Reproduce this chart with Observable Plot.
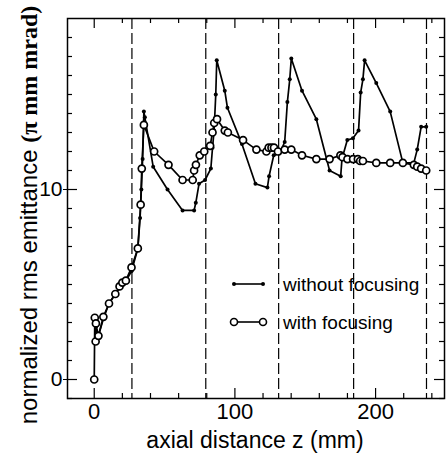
<!DOCTYPE html>
<html><head><meta charset="utf-8">
<script src="https://cdn.jsdelivr.net/npm/d3@7"></script>
<script src="https://cdn.jsdelivr.net/npm/@observablehq/plot@0.6"></script>
<style>body{margin:0;background:#fff} svg{display:block}</style>
</head><body><div id="chart"></div>
<script>
// Series: axial distance z (mm) and normalized rms emittance (pi mm mrad)
const zWith = [0,0.4,1.2,1.0,3.0,6.5,10.5,15,18,20,22.5,26.5,31,33,33.8,35.3,42.6,52.8,62.8,70,71,72.3,75,78.2,82.4,84.1,85.3,87.3,92.8,95,105.8,115.3,122.4,124,126,127.8,130.6,135.4,140.1,147.7,157.9,167.3,175,176.5,180,184,187.4,189,191,200.5,210.4,219.4,227.2,229.6,232.4,236];
const eWith = [0,3.25,2.95,2.0,2.3,3.3,4.0,4.5,4.9,5.1,5.2,5.9,6.9,9.2,11.1,13.4,12.0,11.3,10.5,10.5,11.0,11.3,11.8,12.0,12.3,13.0,13.5,13.7,13.1,13.0,12.6,12.1,12.0,12.2,12.2,12.2,12.0,12.1,12.1,11.8,11.6,11.6,11.8,11.7,11.6,11.6,11.6,11.5,11.5,11.4,11.4,11.4,11.3,11.2,11.1,11.0];
const zWithout = [0.8,1.5,3,6.5,10.5,15,18,20,22.5,26.5,31,32.6,33.5,34.4,35.3,36,41.9,52.1,62.8,71,72.2,74.5,78.8,82.9,84.1,85.2,86.4,87.1,92.8,94.7,105,114.6,123.1,124.3,127.6,131.8,135.4,137.3,139,140.1,147.7,157.9,167.3,175.2,176.1,179.9,183.9,187.9,189.4,191,192.2,200.5,210.4,219.4,227.2,229.6,232.4,236];
const eWithout = [2.0,2.8,2.3,3.2,4.0,4.5,4.8,5.0,5.2,5.7,6.9,8.5,10.0,11.6,14.1,13.8,11.2,10.0,8.9,8.9,9.3,10.3,10.5,11.1,12.2,13.1,15.0,16.8,15.2,14.3,12.4,10.3,10.1,10.7,11.8,11.9,12.5,14.6,15.8,16.9,15.2,13.7,11.0,10.7,11.6,12.6,12.7,13.1,15.1,15.8,16.8,15.6,14.1,11.4,11.4,12.1,13.3,13.3];
const dividers = [26.8, 79.3, 131.1, 184.4, 236.2];
const xMajor = [0, 100, 200];
const xMinor = [20, 40, 60, 80, 120, 140, 160, 180, 220, 240];
const yMajor = [0, 10];
const yMinor = [-1,1,2,3,4,5,6,7,8,9,11,12,13,14,15,16,17,18];
const seriesNames = ["without focusing", "with focusing"];
const xLabel = "axial distance z (mm)";
const yLabelSans = "normalized rms emittance ";
const yLabelSerif = "(\u03c0 mm mrad)";

const withData = zWith.map((z,i)=>({z, e: eWith[i]}));
const withoutData = zWithout.map((z,i)=>({z, e: eWithout[i]}));

const W=448, H=454, mL=67, mR=4, mT=18, mB=56;
const pW = W-mL-mR, pH = H-mT-mB;
const font = "'Liberation Sans', Arial, Helvetica, sans-serif";

const chart = Plot.plot({
  width: W, height: H, marginLeft: mL, marginRight: mR, marginTop: mT, marginBottom: mB,
  x: {domain: [-19, 249]},
  y: {domain: [-1, 19]},
  style: {fontFamily: font, background: "white", color: "black"},
  marks: [
    Plot.ruleX(dividers, {stroke: "black", strokeWidth: 1.2, strokeDasharray: "11,4"}),
    Plot.tickX(xMinor, {x: d=>d, insetTop: pH-5, stroke: "black", strokeWidth: 1.2}),
    Plot.tickX(xMajor, {x: d=>d, insetTop: pH-10, stroke: "black", strokeWidth: 1.2}),
    Plot.tickX(xMinor, {x: d=>d, insetBottom: pH-5, stroke: "black", strokeWidth: 1.2}),
    Plot.tickX(xMajor, {x: d=>d, insetBottom: pH-10, stroke: "black", strokeWidth: 1.2}),
    Plot.tickY(yMinor, {y: d=>d, insetRight: pW-5, stroke: "black", strokeWidth: 1.2}),
    Plot.tickY(yMajor, {y: d=>d, insetRight: pW-10, stroke: "black", strokeWidth: 1.2}),
    Plot.tickY(yMinor, {y: d=>d, insetLeft: pW-5, stroke: "black", strokeWidth: 1.2}),
    Plot.tickY(yMajor, {y: d=>d, insetLeft: pW-10, stroke: "black", strokeWidth: 1.2}),
    Plot.axisX(xMajor, {tickSize: 0, tickPadding: 5, fontSize: 22, label: null}),
    Plot.axisY(yMajor, {tickSize: 4, tickPadding: 1, fontSize: 21, label: null}),
    Plot.frame({stroke: "black", strokeWidth: 1.5}),
    Plot.line(withoutData, {x: "z", y: "e", stroke: "black", strokeWidth: 1.7}),
    Plot.dot(withoutData, {x: "z", y: "e", r: 2, fill: "black"}),
    Plot.line(withData, {x: "z", y: "e", stroke: "black", strokeWidth: 1.7}),
    Plot.dot(withData, {x: "z", y: "e", r: 3.5, stroke: "black", fill: "white", strokeWidth: 1.7})
  ]
});
document.getElementById("chart").appendChild(chart);

const svg = d3.select(chart);
// x label
svg.append("text").attr("x", 255).attr("y", 448)
  .attr("text-anchor", "middle").attr("font-family", font).attr("font-size", 23)
  .attr("fill", "black").text(xLabel);
// y label (mixed fonts)
const yl = svg.append("text").attr("transform", "translate(37,215) rotate(-90)")
  .attr("text-anchor", "middle").attr("font-size", 24).attr("fill", "black");
yl.append("tspan").attr("font-family", font).text(yLabelSans);
yl.append("tspan").attr("font-family", "'Liberation Serif', 'Times New Roman', serif").attr("font-weight", "bold").text(yLabelSerif);
// legend
const lg = svg.append("g").attr("font-family", font).attr("font-size", 19).attr("text-anchor", "start");
[[284, "without"], [322, "with"]].forEach(([yy, kind], i) => {
  lg.append("line").attr("x1", 234).attr("x2", 263).attr("y1", yy).attr("y2", yy)
    .attr("stroke", "black").attr("stroke-width", 1.6);
  [234, 263].forEach(xx => {
    if (kind === "without") lg.append("circle").attr("cx", xx).attr("cy", yy).attr("r", 2).attr("fill", "black");
    else lg.append("circle").attr("cx", xx).attr("cy", yy).attr("r", 3.5).attr("fill", "white").attr("stroke", "black").attr("stroke-width", 1.6);
  });
  lg.append("text").attr("x", 283).attr("y", yy).attr("dy", "0.35em").attr("text-anchor", "start").attr("fill", "black").text(seriesNames[i]);
});
</script>
</body></html>
